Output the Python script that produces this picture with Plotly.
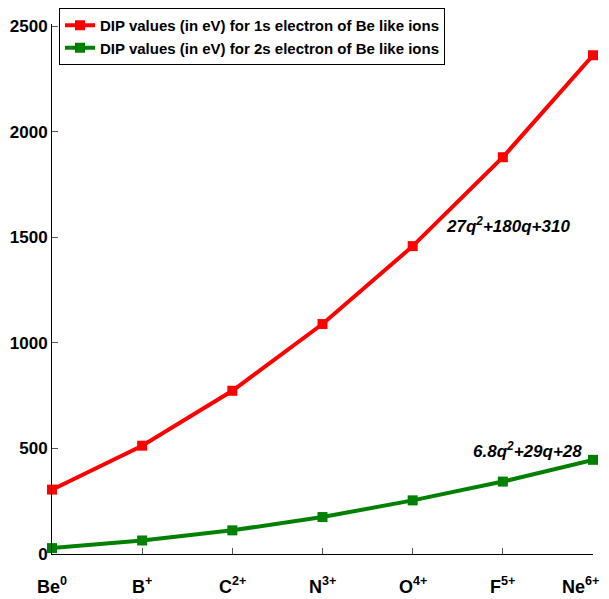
import plotly.graph_objects as go

ions = ["Be<sup>0</sup>", "B<sup>+</sup>", "C<sup>2+</sup>", "N<sup>3+</sup>",
        "O<sup>4+</sup>", "F<sup>5+</sup>", "Ne<sup>6+</sup>"]
q = [0, 1, 2, 3, 4, 5, 6]
dip_1s = [305, 513, 773, 1089, 1458, 1879, 2362]
dip_2s = [28, 64, 112, 175, 254, 343, 446]
y_ticks = [0, 500, 1000, 1500, 2000, 2500]

FONT = "Liberation Sans, Arial, sans-serif"
W, H = 601, 591  # page body has an 8px margin, so the figure fits the 609x599 window

fig = go.Figure()
fig.add_trace(go.Scatter(
    x=q, y=dip_1s, mode="lines+markers",
    name="<b>DIP values (in eV) for 1s electron of Be like ions</b>",
    line=dict(color="#ff0000", width=4),
    marker=dict(symbol="square", size=10, color="#ff0000"),
    cliponaxis=False))
fig.add_trace(go.Scatter(
    x=q, y=dip_2s, mode="lines+markers",
    name="<b>DIP values (in eV) for 2s electron of Be like ions</b>",
    line=dict(color="#008000", width=4),
    marker=dict(symbol="square", size=10, color="#008000"),
    cliponaxis=False))

fig.add_annotation(x=5.06, y=1558, text="<b><i>27q<sup>2</sup>+180q+310</i></b>",
                   showarrow=False, font=dict(size=17, color="black", family=FONT))
fig.add_annotation(x=5.27, y=493, text="<b><i>6.8q<sup>2</sup>+29q+28</i></b>",
                   showarrow=False, font=dict(size=17, color="black", family=FONT))

# x tick labels (drawn as annotations so the last one is not dropped at the edge)
for xv, lab in zip(q, ions):
    fig.add_annotation(x=xv, y=0, xref="x", yref="paper", yanchor="top",
                       yshift=-18, xshift=(-13 if xv == 6 else 0),
                       text="<b>%s</b>" % lab, showarrow=False,
                       font=dict(size=18, color="black", family=FONT))

fig.update_layout(
    width=W, height=H,
    margin=dict(l=44, r=16, t=16, b=45, autoexpand=False),
    plot_bgcolor="white", paper_bgcolor="white",
    font=dict(family=FONT, color="black"),
    showlegend=True,
    legend=dict(x=51 / W, y=1.0, xref="container", yref="container",
                xanchor="left", yanchor="top",
                bordercolor="black", borderwidth=1, bgcolor="white",
                font=dict(size=15, family=FONT), tracegroupgap=0,
                itemwidth=30),
    xaxis=dict(range=[0, 6], tickvals=q, showticklabels=False,
               ticks="inside", ticklen=6, tickcolor="#555555",
               showline=True, linecolor="black", linewidth=1,
               showgrid=False, zeroline=False, mirror=False, automargin=False),
    yaxis=dict(range=[0, 2510], tickvals=y_ticks,
               ticktext=["<b>%d</b>" % v for v in y_ticks],
               ticks="inside", ticklen=6, tickcolor="#555555",
               showline=True, linecolor="black", linewidth=1,
               showgrid=False, zeroline=False, mirror=False, automargin=False,
               tickfont=dict(size=17, family=FONT)),
)

fig.write_html("out.html")
